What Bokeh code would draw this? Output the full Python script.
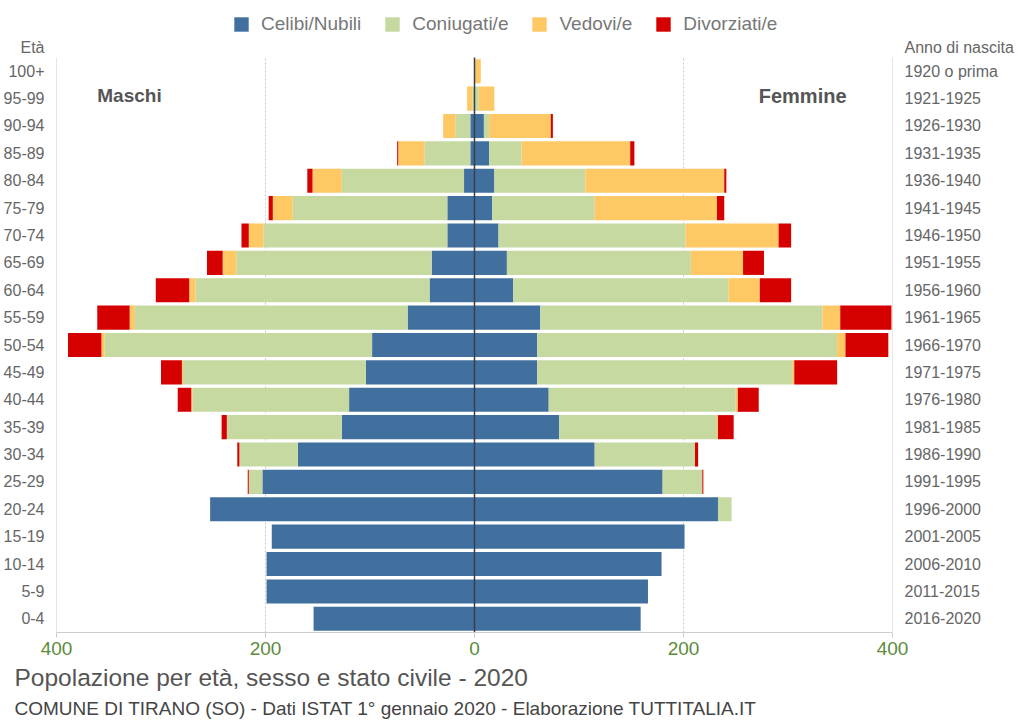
from bokeh.plotting import figure
from bokeh.models import ColumnDataSource, Range1d, FixedTicker, LinearAxis, Label, Title
from bokeh.embed import file_html
from bokeh.resources import INLINE

# ---- data (bottom-up: 0-4 ... 100+) ----
age_groups = ["0-4", "5-9", "10-14", "15-19", "20-24", "25-29", "30-34", "35-39", "40-44",
              "45-49", "50-54", "55-59", "60-64", "65-69", "70-74", "75-79", "80-84",
              "85-89", "90-94", "95-99", "100+"]
birth_years = ["2016-2020", "2011-2015", "2006-2010", "2001-2005", "1996-2000", "1991-1995",
               "1986-1990", "1981-1985", "1976-1980", "1971-1975", "1966-1970", "1961-1965",
               "1956-1960", "1951-1955", "1946-1950", "1941-1945", "1936-1940", "1931-1935",
               "1926-1930", "1921-1925", "1920 o prima"]

celibi_m = [154, 199, 199, 194, 253, 203, 169, 127, 120, 104, 98, 64, 43, 41, 26, 26, 10, 4, 4, 0, 0]
coniugati_m = [0, 0, 0, 0, 0, 13, 56, 110, 150, 175, 256, 261, 224, 187, 176, 148, 117, 44, 14, 2, 0]
vedovi_m = [0, 0, 0, 0, 0, 0, 0, 0, 1, 1, 3, 5, 6, 13, 14, 19, 28, 25, 12, 5, 0]
divorziati_m = [0, 0, 0, 0, 0, 1, 2, 5, 13, 20, 32, 31, 32, 15, 7, 4, 5, 1, 0, 0, 0]

celibi_f = [159, 166, 179, 201, 233, 180, 115, 81, 71, 60, 60, 63, 37, 31, 23, 17, 19, 14, 9, 0, 0]
coniugati_f = [0, 0, 0, 0, 13, 38, 96, 151, 179, 244, 287, 270, 206, 176, 179, 98, 87, 31, 5, 4, 0]
vedovi_f = [0, 0, 0, 0, 0, 0, 0, 1, 2, 2, 8, 17, 30, 50, 89, 117, 133, 104, 59, 15, 6]
divorziati_f = [0, 0, 0, 0, 0, 1, 3, 15, 20, 41, 41, 49, 30, 20, 12, 7, 2, 4, 2, 0, 0]

series_names = ["Celibi/Nubili", "Coniugati/e", "Vedovi/e", "Divorziati/e"]
colors = ["#41709f", "#c5d9a1", "#fec865", "#d50000"]
x_ticks = [-400, -200, 0, 200, 400]
grid_x = [-200, 200]
edge_x = [-400, 400]

TITLE = "Popolazione per età, sesso e stato civile - 2020"
SUBTITLE = "COMUNE DI TIRANO (SO) - Dati ISTAT 1° gennaio 2020 - Elaborazione TUTTITALIA.IT"
LEFT_HEAD = "Età"
RIGHT_HEAD = "Anno di nascita"

FONT = "Liberation Sans"
GREY = "#666666"

n = len(age_groups)
yi = list(range(n))
y_lo, y_hi = -0.5, n - 0.5
head_y = y_hi + 0.365          # header row just above the bars
src = ColumnDataSource(dict(
    y=yi,
    cm=[-v for v in celibi_m], om=[-v for v in coniugati_m],
    vm=[-v for v in vedovi_m], dm=[-v for v in divorziati_m],
    cf=celibi_f, of=coniugati_f, vf=vedovi_f, df=divorziati_f,
))

# frame extends above the rows to host the legend (49 px = 1.79 rows)
p = figure(width=1016, height=720, x_range=Range1d(-400, 400),
           y_range=Range1d(y_lo, y_hi + 1.79),
           output_backend="svg", toolbar_location=None,
           min_border_left=56, min_border_right=123, min_border_top=8, min_border_bottom=88,
           y_axis_location=None)
p.outline_line_color = None
p.background_fill_color = "white"
p.ygrid.visible = False
p.xgrid.visible = False

# dotted grid lines and solid edge lines limited to the row area
p.segment(x0=grid_x, x1=grid_x, y0=[y_lo] * len(grid_x), y1=[y_hi] * len(grid_x),
          line_color="#c8c8c8", line_dash="2 2", line_width=1)
p.segment(x0=edge_x, x1=edge_x, y0=[y_lo] * 2, y1=[y_hi] * 2,
          line_color="#cccccc", line_width=1)

p.hbar_stack(["cm", "om", "vm", "dm"], y="y", height=0.88, color=colors, line_color=None, source=src)
p.hbar_stack(["cf", "of", "vf", "df"], y="y", height=0.88, color=colors, line_color=None, source=src,
             legend_label=series_names)

# centre line
p.segment(x0=[0], x1=[0], y0=[y_lo], y1=[y_hi], line_color="#3a3f4a", line_width=1.5)

# bottom axis
xa = p.xaxis[0]
xa.ticker = FixedTicker(ticks=x_ticks)
xa.major_label_overrides = {t: str(abs(t)) for t in x_ticks}
xa.axis_line_color = "#cccccc"
xa.major_tick_line_color = "#cccccc"
xa.major_tick_out = 5
xa.major_tick_in = 0
xa.minor_tick_line_color = None
xa.major_label_text_color = "#5b8b3c"
xa.major_label_text_font = FONT
xa.major_label_text_font_size = "19px"
xa.major_label_standoff = 4

ticks_y = FixedTicker(ticks=yi + [head_y])
left_labels = {i: s for i, s in enumerate(age_groups)}
left_labels[head_y] = LEFT_HEAD
right_labels = {i: s for i, s in enumerate(birth_years)}
right_labels[head_y] = RIGHT_HEAD
left = LinearAxis(ticker=ticks_y, major_label_overrides=left_labels)
right = LinearAxis(ticker=ticks_y, major_label_overrides=right_labels)
for ax in (left, right):
    ax.bounds = (y_lo, head_y + 0.05)
    ax.axis_line_color = None
    ax.major_tick_line_color = None
    ax.minor_tick_line_color = None
    ax.major_label_text_color = GREY
    ax.major_label_text_font = FONT
    ax.major_label_text_font_size = "16px"
    ax.major_label_standoff = 6
p.add_layout(left, "left")
p.add_layout(right, "right")

# legend (inside the extended frame, above the rows)
lg = p.legend[0]
lg.orientation = "horizontal"
lg.location = (176, 597)
lg.border_line_color = None
lg.background_fill_alpha = 0
lg.padding = 0
lg.margin = 0
lg.glyph_width = 18
lg.glyph_height = 18
lg.label_height = 18
lg.label_standoff = 11
lg.spacing = 22
lg.label_text_font = FONT
lg.label_text_font_size = "19px"
lg.label_text_color = "#777777"

for x, text, size in ((-361, "Maschi", "19px"), (272, "Femmine", "20px")):
    p.add_layout(Label(x=x, y=19.11, text=text, text_font_size=size, text_align="left",
                       text_baseline="middle", text_color="#555555", text_font=FONT,
                       text_font_style="bold"))

# titles below the chart
p.add_layout(Title(text=TITLE, align="left", offset=-42, standoff=9, text_font=FONT,
                   text_font_size="24.5px", text_font_style="normal", text_color="#555555"), "below")
p.add_layout(Title(text=SUBTITLE, align="left", offset=-42, standoff=0, text_font=FONT,
                   text_font_size="19px", text_font_style="normal", text_color="#444444"), "below")

open("out.html", "w").write(file_html(p, INLINE))
